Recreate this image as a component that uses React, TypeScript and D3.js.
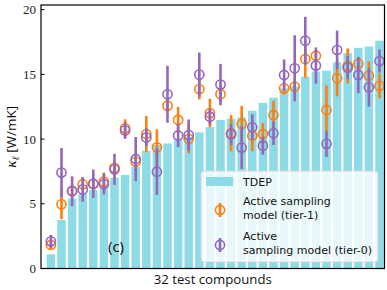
import React from "react";
import * as d3 from "d3";

// 32 test compounds, sorted by TDEP value
const compounds = d3.range(1, 33).map((i) => `C${i}`);

const tdep = [
  1.1, 3.74, 5.4, 5.76, 6.06, 6.42, 7.02, 7.23, 7.84, 9.1, 9.56, 9.66, 9.96, 10.16, 10.52, 10.92,
  11.48, 11.58, 11.68, 12.19, 12.8, 13.2, 13.91, 14.06, 14.82, 15.22, 15.28, 15.93, 16.64, 17.05, 17.15, 17.6,
];

// Active sampling model (tier-1)
const tier1 = [
  1.82, 4.96, 6.0, 6.51, 6.52, 6.71, 7.78, 10.83, 8.26, 10.39, 9.36, 12.59, 11.48, 10.01, 13.86, 12.01,
  13.47, 10.45, 11.17, 10.26, 10.39, 11.86, 13.92, 14.05, 16.19, 16.44, 12.25, 14.7, 15.65, 15.83, 14.9, 14.11,
];
const tier1Err = [
  0.3, 1.15, 0.5, 0.5, 0.5, 0.7, 0.5, 0.7, 0.4, 1.4, 1.4, 0.5, 1.0, 1.1, 0.8, 1.1,
  0.7, 1.4, 1.4, 1.2, 0.85, 1.1, 0.5, 0.6, 1.45, 0.4, 1.9, 1.4, 1.35, 0.5, 1.1, 0.95,
];

// Active sampling model (tier-0)
const tier0 = [
  2.1, 7.41, 5.97, 6.11, 6.55, 6.53, 7.66, 10.67, 8.46, 10.13, 7.48, 13.46, 10.28, 10.31, 14.98, 11.73,
  14.21, 10.36, 9.34, 10.91, 9.49, 10.45, 14.95, 15.47, 17.6, 15.68, 9.63, 16.88, 15.52, 14.95, 14.0, 16.03,
];
const tier0Err = [
  0.5, 1.9, 1.15, 0.95, 1.1, 0.8, 1.2, 0.65, 1.7, 0.7, 1.8, 2.2, 0.9, 1.2, 1.7, 0.6,
  1.6, 0.8, 1.65, 1.0, 0.7, 0.9, 1.2, 2.55, 1.85, 1.4, 1.0, 1.5, 0.9, 1.4, 1.5, 0.9,
];

const yTicks = [0, 5, 10, 15, 20];

const barColor = "#8cdbe6";
const orange = "#ff7f0e";
const purple = "#9467bd";
const sans = "'Open Sans', 'DejaVu Sans', sans-serif";
const legendFont = "'DejaVu Sans', sans-serif";
const serif = "'Liberation Serif', serif";

const W = 387;
const H = 290;
const plot = { left: 41, right: 384.5, top: 5, bottom: 268.5 };

const ErrPoint = ({ cx, cy, y0, y1, color }) => (
  <g>
    <line x1={cx} x2={cx} y1={y0} y2={y1} stroke={color} strokeWidth={2.6} />
    <circle cx={cx} cy={cy} r={4.6} fill="none" stroke={color} strokeWidth={1.6} />
  </g>
);

export default function App() {
  const x = d3
    .scaleBand()
    .domain(compounds)
    .range([45.6, 384.8])
    .paddingInner(0.2)
    .paddingOuter(0.1);
  const y = d3.scaleLinear().domain([0, 20.36]).range([plot.bottom, plot.top]);
  const cx = (c) => x(c) + x.bandwidth() / 2;

  return (
    <svg
      width={W}
      height={H}
      style={{ position: "absolute", left: 0, top: 0, background: "white" }}
    >
      {/* TDEP bars */}
      {compounds.map((c, i) => (
        <rect
          key={"b" + c}
          x={x(c)}
          y={y(tdep[i])}
          width={x.bandwidth()}
          height={y(0) - y(tdep[i])}
          fill={barColor}
        />
      ))}

      {/* tier-1 */}
      {compounds.map((c, i) => (
        <ErrPoint
          key={"o" + c}
          cx={cx(c)}
          cy={y(tier1[i])}
          y0={y(tier1[i] - tier1Err[i])}
          y1={y(tier1[i] + tier1Err[i])}
          color={orange}
        />
      ))}

      {/* tier-0 */}
      {compounds.map((c, i) => (
        <ErrPoint
          key={"p" + c}
          cx={cx(c)}
          cy={y(tier0[i])}
          y0={y(tier0[i] - tier0Err[i])}
          y1={y(tier0[i] + tier0Err[i])}
          color={purple}
        />
      ))}

      {/* frame */}
      <rect
        x={plot.left}
        y={plot.top}
        width={plot.right - plot.left}
        height={plot.bottom - plot.top}
        fill="none"
        stroke="black"
        strokeWidth={1.2}
      />

      {/* y ticks */}
      {yTicks.map((t) => (
        <g key={"t" + t}>
          <line x1={plot.left} x2={plot.left + 3.5} y1={y(t)} y2={y(t)} stroke="black" strokeWidth={1} />
          <text
            x={36}
            y={y(t)}
            dy="0.35em"
            textAnchor="end"
            fontFamily={serif}
            fontSize={13}
            fill="#222"
          >
            {t}
          </text>
        </g>
      ))}

      {/* axis labels */}
      <text
        x={(plot.left + plot.right) / 2}
        y={284}
        textAnchor="middle"
        fontFamily={sans}
        fontSize={13.2}
        fill="#111"
      >
        32 test compounds
      </text>
      <text
        transform={`translate(16, ${(plot.top + plot.bottom) / 2}) rotate(-90)`}
        textAnchor="middle"
        fontFamily={sans}
        fontSize={13.5}
        fill="#111"
      >
        <tspan fontFamily={serif} fontStyle="italic" fontSize={15}>κ</tspan>
        <tspan fontFamily={serif} fontStyle="italic" fontSize={10} dy={3}>ℓ</tspan>
        <tspan dy={-3}> [W/mK]</tspan>
      </text>

      <text x={116} y={252} textAnchor="middle" fontFamily={sans} fontSize={15} fill="#111">
        (c)
      </text>

      {/* legend */}
      <g>
        <rect x={201} y={171} width={177} height={91} rx={3} fill="white" fillOpacity={0.8} stroke="#d4d4d4" strokeWidth={1} />
        <rect x={206} y={177} width={27} height={9} fill={barColor} />
        <text x={243} y={186} fontFamily={legendFont} fontSize={11} fill="#111">TDEP</text>

        <ErrPoint cx={220} cy={210} y0={203} y1={217} color={orange} />
        <text x={243} y={205} fontFamily={legendFont} fontSize={11} fill="#111">Active sampling</text>
        <text x={243} y={218.5} fontFamily={legendFont} fontSize={11} fill="#111">model (tier-1)</text>

        <ErrPoint cx={220} cy={245} y0={238} y1={252} color={purple} />
        <text x={243} y={240} fontFamily={legendFont} fontSize={11} fill="#111">Active</text>
        <text x={243} y={253.5} fontFamily={legendFont} fontSize={11} fill="#111">sampling model (tier-0)</text>
      </g>
    </svg>
  );
}
